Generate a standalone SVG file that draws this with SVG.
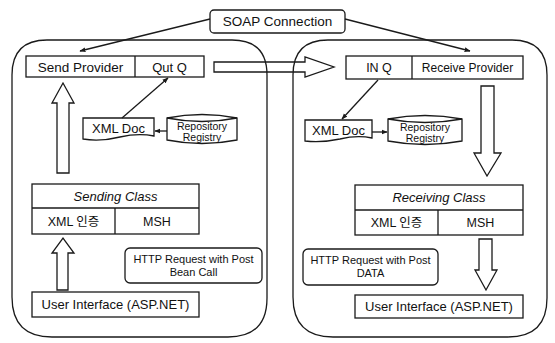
<svg xmlns="http://www.w3.org/2000/svg" width="555" height="343" viewBox="0 0 555 343">
<defs>
<style>
.s{fill:none;stroke:#1a1a1a;stroke-width:1.3}
.w{fill:#fff;stroke:#1a1a1a;stroke-width:1.3}
.t{font-family:"Liberation Sans",Arial,"Noto Sans CJK KR",sans-serif;fill:#111;text-anchor:middle}
.k{font-family:"Liberation Sans","Noto Sans CJK KR",sans-serif;fill:#111;text-anchor:middle}
</style>
<marker id="ah" viewBox="0 0 10 10" refX="9" refY="5" markerWidth="6" markerHeight="6" orient="auto-start-reverse" markerUnits="userSpaceOnUse">
<path d="M0,1 L10,5 L0,9 Z" fill="#1a1a1a"/>
</marker>
</defs>
<rect width="555" height="343" fill="#fff"/>

<g id="left-container"><path class="s" d="M47,40 H232 Q267,40 267,75 V298 Q267,337 228,337 H52 Q12,337 12,297 V75 Q12,40 47,40 Z"/></g>
<g id="right-container"><path class="s" d="M328,40 H512 Q547,40 547,75 V298 Q547,337 508,337 H333 Q293,337 293,297 V75 Q293,40 328,40 Z"/></g>

<g id="soap"><rect class="w" x="210" y="10" width="135" height="23" rx="4"/><text class="t" x="277.5" y="26" font-size="13.5">SOAP Connection</text></g>

<g id="send-provider"><rect class="w" x="26" y="56" width="178" height="21"/><line class="s" x1="135" y1="56" x2="135" y2="77"/><text class="t" x="80.5" y="71.5" font-size="13.5">Send Provider</text><text class="t" x="169.5" y="71.5" font-size="13">Qut Q</text></g>

<g id="receive-provider"><rect class="w" x="346" y="56" width="177" height="23"/><line class="s" x1="412" y1="56" x2="412" y2="79"/><text class="t" x="379" y="72" font-size="12.5">IN Q</text><text class="t" x="467.5" y="72" font-size="12">Receive Provider</text></g>

<g id="xmldoc-left"><path class="w" d="M83,118 H154 V136 Q138,133 120,137 Q100,142 83,139 Z"/><text class="t" x="118.5" y="133" font-size="13">XML Doc</text></g>
<g id="repo-left"><path class="w" d="M167,118 Q202,111 237,118 V140 Q202,147 167,140 Z"/><path class="s" d="M167,118 Q202,125 237,118"/><text class="t" x="202" y="129.5" font-size="10.5">Repository</text><text class="t" x="202" y="141" font-size="10.5">Registry</text></g>

<g id="xmldoc-right"><path class="w" d="M305,120 H372 V138 Q357,135 340,139 Q321,143 305,141 Z"/><text class="t" x="338.5" y="135" font-size="13">XML Doc</text></g>
<g id="repo-right"><path class="w" d="M388,119 Q425,112 462,119 V141 Q425,148 388,141 Z"/><path class="s" d="M388,119 Q425,126 462,119"/><text class="t" x="425" y="130.5" font-size="10.5">Repository</text><text class="t" x="425" y="142" font-size="10.5">Registry</text></g>

<g id="sending-class"><rect class="w" x="32" y="184" width="167" height="50"/><line class="s" x1="32" y1="208" x2="199" y2="208"/><line class="s" x1="115" y1="208" x2="115" y2="234"/><text class="t" x="115.5" y="201" font-size="13" font-style="italic">Sending Class</text><text class="k" x="73.5" y="226" font-size="12.5">XML 인증</text><text class="t" x="157" y="226" font-size="12.5">MSH</text></g>

<g id="receiving-class"><rect class="w" x="355" y="185" width="168" height="50"/><line class="s" x1="355" y1="210" x2="523" y2="210"/><line class="s" x1="438" y1="210" x2="438" y2="235"/><text class="t" x="439" y="202" font-size="13" font-style="italic">Receiving Class</text><text class="k" x="396.5" y="227" font-size="12.5">XML 인증</text><text class="t" x="480.5" y="227" font-size="12.5">MSH</text></g>

<g id="http-left"><rect class="w" x="125" y="248" width="137" height="35" rx="5"/><text class="t" x="193.5" y="263" font-size="11">HTTP Request with Post</text><text class="t" x="193.5" y="276" font-size="11">Bean Call</text></g>
<g id="http-right"><rect class="w" x="303" y="249" width="135" height="36" rx="5"/><text class="t" x="370.5" y="264" font-size="11">HTTP Request with Post</text><text class="t" x="370.5" y="277" font-size="11">DATA</text></g>

<g id="ui-left"><rect class="w" x="32" y="292" width="167" height="25"/><text class="t" x="115.5" y="309" font-size="13">User Interface (ASP.NET)</text></g>
<g id="ui-right"><rect class="w" x="355" y="295" width="168" height="23"/><text class="t" x="439" y="311" font-size="13">User Interface (ASP.NET)</text></g>

<g id="connectors">
<line class="s" x1="210" y1="19" x2="80" y2="51" marker-end="url(#ah)"/>
<line class="s" x1="345" y1="19" x2="470" y2="51" marker-end="url(#ah)"/>
<line class="s" x1="122" y1="118" x2="168" y2="78" marker-end="url(#ah)"/>
<line class="s" x1="378" y1="80" x2="342" y2="119" marker-end="url(#ah)"/>
<line class="s" x1="167" y1="131" x2="155" y2="131" marker-end="url(#ah)"/>
<line class="s" x1="372" y1="132" x2="387" y2="132" marker-end="url(#ah)"/>
<path class="s" d="M214,62 H305 V57 L334,67 L305,77 V72 H214 Z"/>
<path class="s" d="M57,173 V103 H52 L63,83 L74,103 H69 V173 Z"/>
<path class="s" d="M57,290 V253 H52 L63,238 L74,253 H68 V290 Z"/>
<path class="s" d="M481,86 V153 H474 L487,176 L501,153 H494 V86 Z"/>
<path class="s" d="M479,239 V270 H475 L486,290 L497,270 H492 V239 Z"/>
</g>
</svg>
